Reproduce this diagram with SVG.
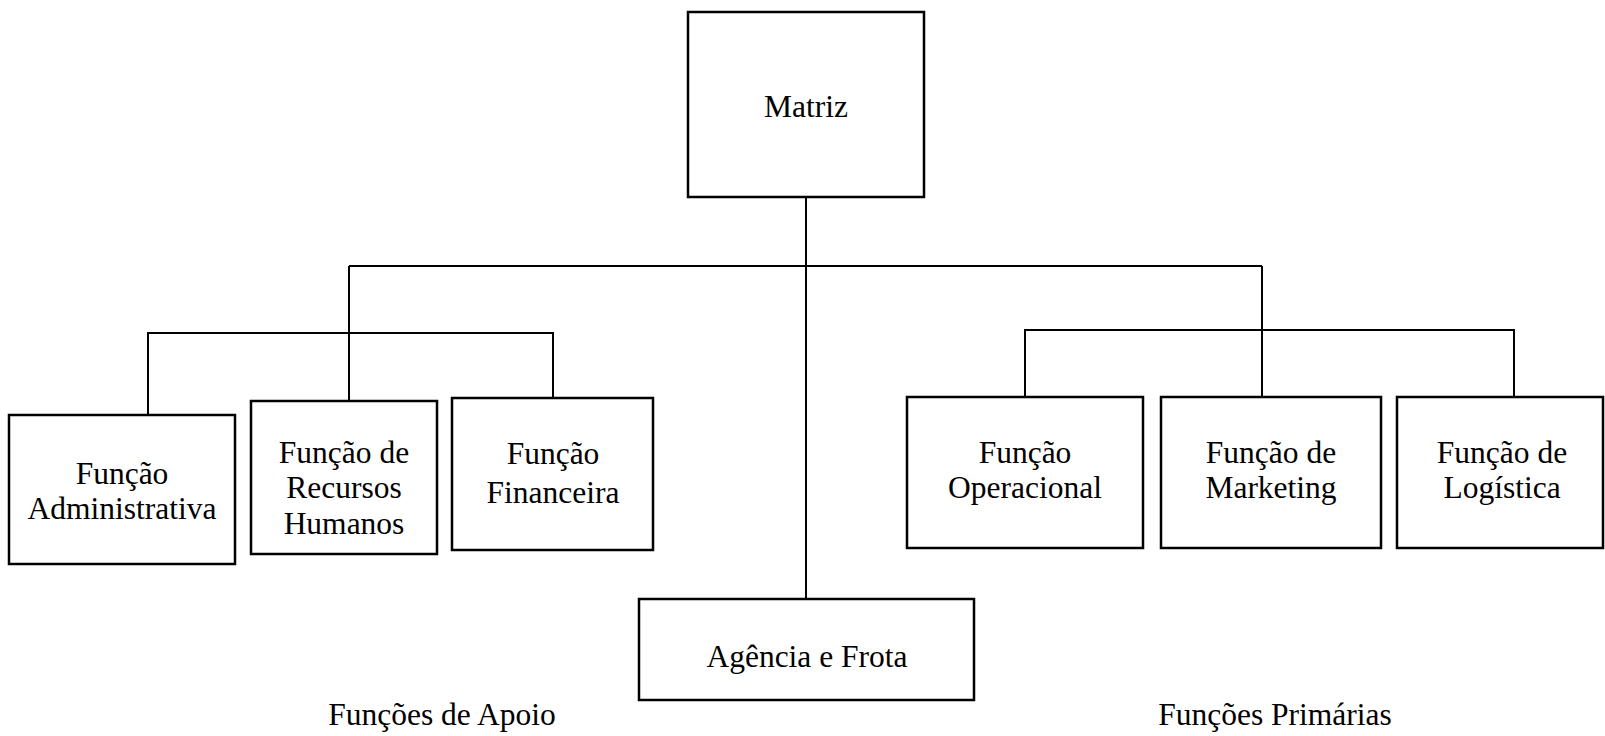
<svg xmlns="http://www.w3.org/2000/svg" width="1605" height="736" viewBox="0 0 1605 736">
  <style>
    .box { fill: #ffffff; stroke: #000000; stroke-width: 2.5; }
    .lbl { font-family: "Liberation Serif", "Times New Roman", serif; font-size: 31.5px; fill: #000000; text-anchor: middle; }
    .wire { fill: none; stroke: #000000; stroke-width: 2; }
  </style>
  <rect width="1605" height="736" fill="#ffffff"/>

  <!-- connectors -->
  <g id="connectors">
    <!-- trunk from Matriz down to Agência e Frota -->
    <path class="wire" d="M806 197 V599"/>
    <!-- main bar -->
    <path class="wire" d="M349 266 H1262"/>
    <!-- support branch -->
    <path class="wire" d="M349 266 V401"/>
    <path class="wire" d="M148 415 V333 H553 V398"/>
    <!-- primary branch -->
    <path class="wire" d="M1262 266 V397"/>
    <path class="wire" d="M1025 397 V330 H1514 V397"/>
  </g>

  <g id="matriz">
    <rect class="box" x="688" y="12" width="236" height="185"/>
    <text class="lbl" x="806" y="117">Matriz</text>
  </g>

  <g id="admin">
    <rect class="box" x="9" y="415" width="226" height="149"/>
    <text class="lbl" x="122" y="484">Função</text>
    <text class="lbl" x="122" y="519">Administrativa</text>
  </g>

  <g id="rh">
    <rect class="box" x="251" y="401" width="186" height="153"/>
    <text class="lbl" x="344" y="463">Função de</text>
    <text class="lbl" x="344" y="498">Recursos</text>
    <text class="lbl" x="344" y="534">Humanos</text>
  </g>

  <g id="financeira">
    <rect class="box" x="452" y="398" width="201" height="152"/>
    <text class="lbl" x="553" y="464">Função</text>
    <text class="lbl" x="553" y="503">Financeira</text>
  </g>

  <g id="operacional">
    <rect class="box" x="907" y="397" width="236" height="151"/>
    <text class="lbl" x="1025" y="463">Função</text>
    <text class="lbl" x="1025" y="498">Operacional</text>
  </g>

  <g id="marketing">
    <rect class="box" x="1161" y="397" width="220" height="151"/>
    <text class="lbl" x="1271" y="463">Função de</text>
    <text class="lbl" x="1271" y="498">Marketing</text>
  </g>

  <g id="logistica">
    <rect class="box" x="1397" y="397" width="206" height="151"/>
    <text class="lbl" x="1502" y="463">Função de</text>
    <text class="lbl" x="1502" y="498">Logística</text>
  </g>

  <g id="agencia">
    <rect class="box" x="639" y="599" width="335" height="101"/>
    <text class="lbl" x="807" y="667">Agência e Frota</text>
  </g>

  <g id="captions">
    <text class="lbl" x="442" y="725">Funções de Apoio</text>
    <text class="lbl" x="1275" y="725">Funções Primárias</text>
  </g>
</svg>
